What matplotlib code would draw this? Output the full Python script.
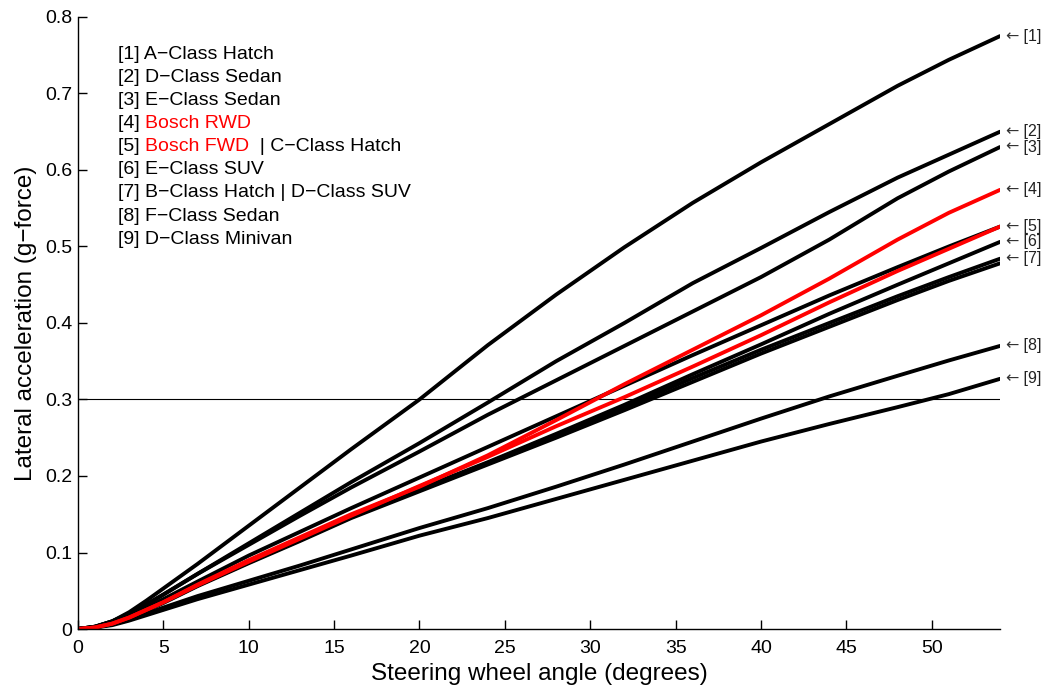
import matplotlib
matplotlib.use("Agg")
import matplotlib.pyplot as plt

plt.rcParams["font.family"] = ["Liberation Sans", "DejaVu Sans"]

# steering wheel angle (deg), shared by every curve
ANGLE = [0, 1, 2, 3, 4, 5, 7, 10, 13, 16, 20, 24, 28, 32, 36, 40, 44, 48, 51, 54]

# lateral acceleration (g) per vehicle
A_CLASS_HATCH = [0, 0.003, 0.010, 0.022, 0.037, 0.053, 0.085, 0.135, 0.185, 0.235,
                 0.300, 0.371, 0.437, 0.499, 0.557, 0.610, 0.660, 0.710, 0.744, 0.775]
D_CLASS_SEDAN = [0, 0.003, 0.010, 0.020, 0.032, 0.045, 0.072, 0.112, 0.152, 0.192,
                 0.243, 0.296, 0.350, 0.400, 0.452, 0.498, 0.545, 0.590, 0.620, 0.650]
E_CLASS_SEDAN = [0, 0.003, 0.010, 0.020, 0.032, 0.045, 0.072, 0.110, 0.148, 0.185,
                 0.232, 0.280, 0.325, 0.370, 0.415, 0.460, 0.509, 0.563, 0.598, 0.630]
BOSCH_RWD = [0, 0.002, 0.007, 0.015, 0.025, 0.035, 0.058, 0.090, 0.120, 0.150,
             0.186, 0.227, 0.273, 0.320, 0.365, 0.410, 0.458, 0.509, 0.544, 0.574]
BOSCH_FWD = [0, 0.002, 0.007, 0.015, 0.025, 0.035, 0.057, 0.088, 0.118, 0.148,
             0.187, 0.225, 0.265, 0.303, 0.343, 0.384, 0.427, 0.468, 0.497, 0.526]
C_CLASS_HATCH = [0, 0.003, 0.009, 0.018, 0.028, 0.039, 0.062, 0.096, 0.127, 0.158,
                 0.198, 0.238, 0.278, 0.318, 0.358, 0.397, 0.436, 0.473, 0.500, 0.526]
E_CLASS_SUV = [0, 0.002, 0.007, 0.015, 0.025, 0.035, 0.057, 0.087, 0.117, 0.147,
               0.183, 0.218, 0.255, 0.293, 0.333, 0.372, 0.412, 0.450, 0.478, 0.506]
B_CLASS_HATCH = [0, 0.002, 0.007, 0.015, 0.025, 0.035, 0.057, 0.087, 0.116, 0.146,
                 0.182, 0.217, 0.253, 0.290, 0.328, 0.365, 0.400, 0.435, 0.460, 0.484]
D_CLASS_SUV = [0, 0.002, 0.007, 0.015, 0.024, 0.034, 0.056, 0.086, 0.115, 0.145,
               0.180, 0.215, 0.250, 0.286, 0.323, 0.360, 0.395, 0.430, 0.455, 0.478]
F_CLASS_SEDAN = [0, 0.002, 0.006, 0.012, 0.020, 0.028, 0.043, 0.063, 0.083, 0.104,
                 0.132, 0.158, 0.186, 0.215, 0.245, 0.275, 0.304, 0.331, 0.351, 0.370]
D_CLASS_MINIVAN = [0, 0.002, 0.005, 0.011, 0.018, 0.025, 0.039, 0.058, 0.077, 0.096,
                   0.122, 0.145, 0.170, 0.195, 0.220, 0.245, 0.268, 0.290, 0.307, 0.327]

BLACK_CURVES = [A_CLASS_HATCH, D_CLASS_SEDAN, E_CLASS_SEDAN, C_CLASS_HATCH,
                E_CLASS_SUV, B_CLASS_HATCH, D_CLASS_SUV, F_CLASS_SEDAN, D_CLASS_MINIVAN]
RED_CURVES = [BOSCH_RWD, BOSCH_FWD]

# right-hand tags, one per legend entry, placed at the curve's last value
TAG_CURVES = [A_CLASS_HATCH, D_CLASS_SEDAN, E_CLASS_SEDAN, BOSCH_RWD, BOSCH_FWD,
              E_CLASS_SUV, B_CLASS_HATCH, F_CLASS_SEDAN, D_CLASS_MINIVAN]

# legend lines as (text, colour) pieces
LEGEND = [
    [("[1] A\u2212Class Hatch", "black")],
    [("[2] D\u2212Class Sedan", "black")],
    [("[3] E\u2212Class Sedan", "black")],
    [("[4] ", "black"), ("Bosch RWD", "red")],
    [("[5] ", "black"), ("Bosch FWD", "red"), ("  | C\u2212Class Hatch", "black")],
    [("[6] E\u2212Class SUV", "black")],
    [("[7] B\u2212Class Hatch | D\u2212Class SUV", "black")],
    [("[8] F\u2212Class Sedan", "black")],
    [("[9] D\u2212Class Minivan", "black")],
]

THRESHOLD = 0.3
X_TICKS = [0, 5, 10, 15, 20, 25, 30, 35, 40, 45, 50]
Y_TICKS = [0, 0.1, 0.2, 0.3, 0.4, 0.5, 0.6, 0.7, 0.8]
Y_TICK_LABELS = ["0", "0.1", "0.2", "0.3", "0.4", "0.5", "0.6", "0.7", "0.8"]

fig = plt.figure(figsize=(10.51, 6.90), dpi=100, facecolor="white")
ax = fig.add_axes([0.0742, 0.0884, 0.8773, 0.887])

ax.plot([ANGLE[0], ANGLE[-1]], [THRESHOLD, THRESHOLD], color="black", lw=0.8)
for ys in BLACK_CURVES:
    ax.plot(ANGLE, ys, color="black", lw=2.8, solid_capstyle="round",
            solid_joinstyle="round")
for ys in RED_CURVES:
    ax.plot(ANGLE, ys, color="red", lw=2.8, solid_capstyle="round",
            solid_joinstyle="round")

ax.set_xlim(0, 54)
ax.set_ylim(0, 0.8)
ax.set_xticks(X_TICKS)
ax.set_yticks(Y_TICKS, Y_TICK_LABELS)
ax.tick_params(direction="in", length=6.5, width=1.0, labelsize=14)
ax.tick_params(axis="x", pad=8)
ax.tick_params(axis="y", pad=4)
for side in ("top", "right"):
    ax.spines[side].set_visible(False)
for side in ("left", "bottom"):
    ax.spines[side].set_linewidth(1.0)

ax.set_xlabel("Steering wheel angle (degrees)", fontsize=17.5, labelpad=4)
ax.set_ylabel("Lateral acceleration (g\u2212force)", fontsize=17.5, labelpad=6)

for i, ys in enumerate(TAG_CURVES):
    arrow = ax.annotate("\u2190", xy=(ANGLE[-1], ys[-1]), xytext=(4, 0),
                        textcoords="offset points", ha="left", va="center",
                        fontsize=11.5, color="#333333", family="DejaVu Sans",
                        annotation_clip=False)
    ax.annotate(f" [{i + 1}]", xy=(1, 0.5), xycoords=arrow, ha="left",
                va="center", fontsize=11.5, color="#222222")

y0, dy = 0.938, 0.0376
for i, pieces in enumerate(LEGEND):
    prev = None
    for text, colour in pieces:
        if prev is None:
            prev = ax.text(0.0434, y0 - i * dy, text, transform=ax.transAxes,
                           fontsize=14, color=colour, ha="left", va="center")
        else:
            prev = ax.annotate(text, xy=(1, 0), xycoords=prev, ha="left",
                               va="bottom", fontsize=14, color=colour)

fig.savefig("out.png", dpi=100, facecolor="white")
